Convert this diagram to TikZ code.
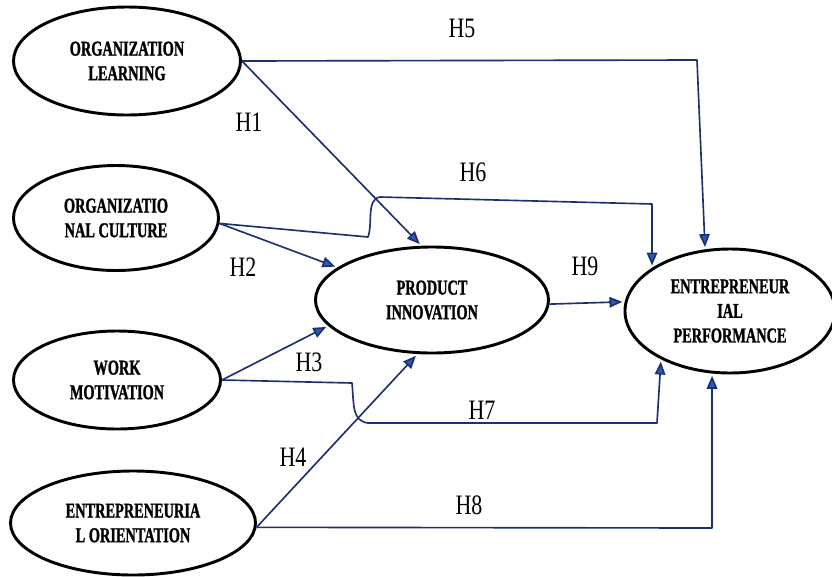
\documentclass[tikz,border=0pt]{standalone}
\usepackage{fontspec}
\setmainfont{Liberation Serif}
\newfontfamily\nodefont[FakeStretch=0.68,FakeBold=1.2]{Liberation Serif Bold}
\newfontfamily\hypfont[FakeStretch=0.78]{Liberation Serif}
\usetikzlibrary{arrows.meta,shapes.geometric}
\definecolor{lineblue}{HTML}{1C2F6E}
\definecolor{tipblue}{HTML}{2C58B4}

\begin{document}
\begin{tikzpicture}[x=0.03cm,y=-0.03cm,>={Triangle[length=11pt,width=9pt,fill=tipblue]},
                    shorten >=2pt]
  \tikzstyle{construct}=[ellipse,draw=black,line width=2.5pt,inner sep=0pt,align=center,
                         font=\nodefont\fontsize{18}{21}\selectfont]
  \tikzstyle{hyp}=[font=\hypfont\fontsize{24}{24}\selectfont]
  \tikzstyle{link}=[->,draw=lineblue,line width=1.4pt,line join=round]

  \useasboundingbox (0,0) rectangle (832,576);

  \node[construct,minimum width=6.81cm,minimum height=3.24cm] (OL) at (127,61)  {ORGANIZATION\\LEARNING};
  \node[construct,minimum width=6.15cm,minimum height=3.15cm] (OC) at (116,218) {ORGANIZATIO\\NAL CULTURE};
  \node[construct,minimum width=6.21cm,minimum height=2.94cm] (WM) at (117,380) {WORK\\MOTIVATION};
  \node[construct,minimum width=7.35cm,minimum height=3.12cm] (EO) at (133,523) {ENTREPRENEURIA\\L ORIENTATION};
  \node[construct,minimum width=6.99cm,minimum height=3.18cm] (PI) at (432,300) {PRODUCT\\INNOVATION};
  \node[construct,minimum width=6.30cm,minimum height=3.72cm] (EP) at (730,311) {ENTREPRENEUR\\IAL\\PERFORMANCE};

  % bends of the long links
  \coordinate (h5a) at (697,60);
  \coordinate (h6a) at (368,237);
  \coordinate (h6b) at (380,197);
  \coordinate (h6c) at (652,204);
  \coordinate (h7a) at (352,383);
  \coordinate (h7b) at (368,423);
  \coordinate (h7c) at (657,423);
  \coordinate (h8a) at (712,528);

  \path (OL.east) edge[link] (PI.101)
        (OC.-3)   edge[link] (PI.161)
        (WM.east) edge[link] (PI.194)
        (EO.-2)   edge[link] (PI.255)
        (PI.-2)   edge[link] (EP.175)
  ; %end path

  \draw[link] (OL.east) -- (h5a) -- (EP.112);
  \draw[link] (OC.-3) -- (h6a) .. controls (373,224) and (366,199) .. (h6b) -- (h6c) -- (EP.151);
  \draw[link] (WM.east) -- (h7a) .. controls (354,405) and (352,421) .. (h7b) -- (h7c) -- (EP.215);
  \draw[link] (EO.-2) -- (h8a) -- (EP.254);

  \node[hyp] (H1) at (249,122) {H1};
  \node[hyp] (H2) at (243,267) {H2};
  \node[hyp] (H3) at (309,362) {H3};
  \node[hyp] (H4) at (293,457) {H4};
  \node[hyp] (H5) at (462,28)  {H5};
  \node[hyp] (H6) at (473,172) {H6};
  \node[hyp] (H7) at (482,410) {H7};
  \node[hyp] (H8) at (469,505) {H8};
  \node[hyp] (H9) at (585,266) {H9};

\end{tikzpicture}
\end{document}
